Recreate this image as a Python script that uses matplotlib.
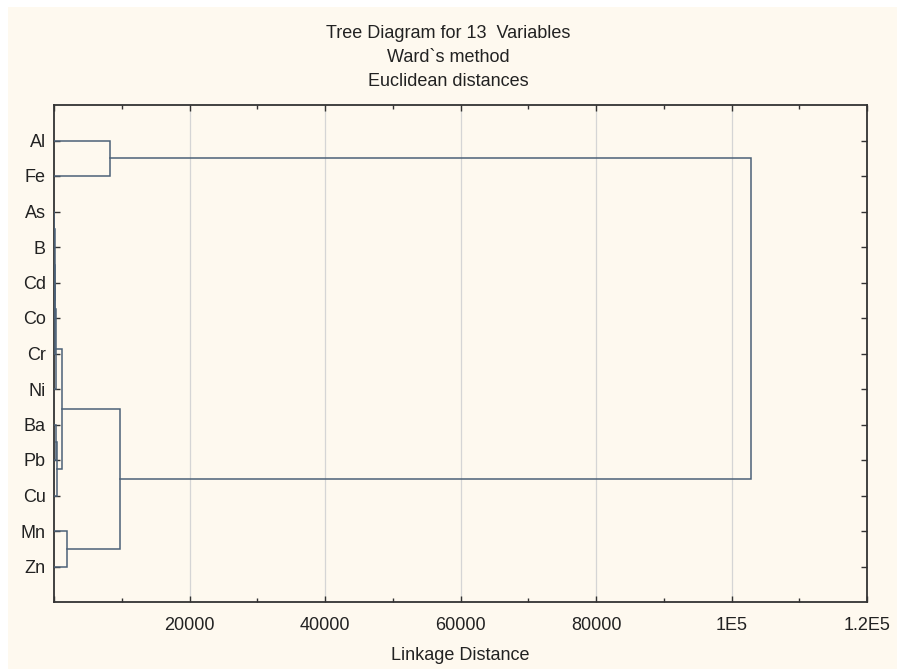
import matplotlib
matplotlib.use("Agg")
import matplotlib.pyplot as plt
from matplotlib.patches import Rectangle

# ---- data ----
leaves = ['Al', 'Fe', 'As', 'B', 'Cd', 'Co', 'Cr', 'Ni', 'Ba', 'Pb', 'Cu', 'Mn', 'Zn']
# merges: (left child, right child, linkage distance); 'cN' refers to merge N
merge_left = ['As', 'Cd', 'c0', 'c2', 'c3', 'Ba', 'c5', 'c4', 'Mn', 'c7', 'Al', 'c10']
merge_right = ['B', 'Co', 'c1', 'Cr', 'Ni', 'Pb', 'Cu', 'c6', 'Zn', 'c8', 'Fe', 'c9']
merge_height = [60, 80, 150, 220, 300, 250, 420, 1180, 1920, 9740, 8270, 102900]

x_ticks = [0, 20000, 40000, 60000, 80000, 100000, 120000]
x_tick_labels = ['', '20000', '40000', '60000', '80000', '1E5', '1.2E5']
x_minor = [10000, 30000, 50000, 70000, 90000, 110000]

title_lines = ['Tree Diagram for 13  Variables', 'Ward`s method', 'Euclidean distances']

bg = '#FEF9EF'
line_c = '#4C6177'
font = 'Liberation Sans'
fs = 13

fig = plt.figure(figsize=(8.97, 6.69), dpi=100)
fig.patch.set_facecolor('white')
fig.patches.append(Rectangle((8 / 897, 0), 1 - 8 / 897, 1 - 7 / 669,
                             transform=fig.transFigure, facecolor=bg,
                             edgecolor='none', zorder=-10))

ax = fig.add_axes([54 / 897, 1 - 602 / 669, (867 - 54) / 897, (602 - 105) / 669])
ax.set_facecolor(bg)

# positions
pos = {name: (i + 1, 0.0) for i, name in enumerate(leaves)}
for k, (l, r, h) in enumerate(zip(merge_left, merge_right, merge_height)):
    yl, hl = pos[l]
    yr, hr = pos[r]
    ax.plot([hl, h, h, hr], [yl, yl, yr, yr], color=line_c, lw=1.1,
            solid_joinstyle='miter', zorder=3)
    pos['c%d' % k] = ((yl + yr) / 2, h)

ax.set_xlim(0, 120000)
ax.set_ylim(14, 0)

ax.set_xticks(x_ticks)
ax.set_xticklabels(x_tick_labels, fontfamily=font, fontsize=fs, color='#222222')
ax.set_xticks(x_minor, minor=True)
ax.set_yticks(range(1, len(leaves) + 1))
ax.set_yticklabels(leaves, fontfamily=font, fontsize=fs, color='#222222')

ax.tick_params(axis='both', which='both', direction='in', top=True, right=True,
               color='#333333', width=1.0)
ax.tick_params(axis='x', which='major', length=4, pad=11)
ax.tick_params(axis='x', which='minor', length=3)
ax.tick_params(axis='y', which='major', length=4, pad=6)

for xv in x_ticks[1:-1]:
    ax.axvline(xv, color='#D5D5D5', lw=0.9, zorder=1)

for s in ax.spines.values():
    s.set_color('#333333')
    s.set_linewidth(1.3)

ax.set_xlabel('Linkage Distance', fontfamily=font, fontsize=fs, labelpad=9,
              color='#222222')

for i, t in enumerate(title_lines):
    fig.text(0.5, 1 - (33 + i * 24.5) / 669, t, ha='center', va='center',
             fontfamily=font, fontsize=fs, color='#222222')

fig.savefig('out.png', dpi=100, facecolor=fig.get_facecolor())
